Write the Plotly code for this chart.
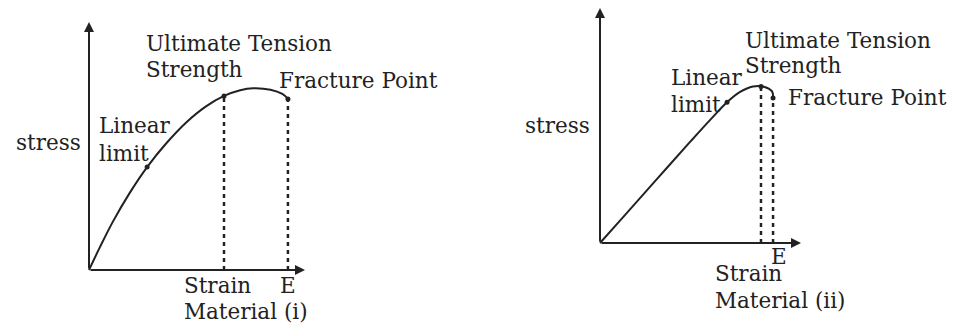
import plotly.graph_objects as go

W, H = 956, 325

# stress-strain curves (arbitrary units, axes run 0..100)
strain_i = [0, 5, 11, 19, 26.9, 36, 45, 54, 62.5, 70, 76, 84, 89.5, 92.1]
stress_i = [0, 9.1, 19.4, 31.3, 41.5, 51.3, 59.5, 65.9, 70.2, 72.5, 73.3, 72.7, 71.0, 69.0]
strain_ii = [0, 11.4, 28.4, 44.8, 54.7, 63.2, 69.7, 76.1, 81.1, 85.6, 86.1]
stress_ii = [0, 10.9, 27.3, 43.0, 52.3, 59.9, 64.3, 66.6, 66.6, 64.5, 61.7]

# key points: linear limit, ultimate tension strength, fracture point
key_strain_i = [26.9, 62.5, 92.1]
key_stress_i = [41.5, 70.2, 69.0]
key_strain_ii = [63.2, 80.1, 86.1]
key_stress_ii = [59.9, 66.6, 61.7]

labels_i = ["Ultimate Tension", "Strength", "Fracture Point", "stress",
            "Linear", "limit", "Strain", "E", "Material (i)"]
labels_ii = ["Ultimate Tension", "Strength", "Linear", "limit", "Fracture Point",
             "stress", "E", "Strain", "Material (ii)"]

INK = "#222222"
FONT = "DejaVu Serif"
LO, HI = -3, 102


def domain(p0, p1, vertical=False):
    # p0 = pixel of value 0, p1 = pixel of value 100
    k = (p1 - p0) / 100.0
    a, b = p0 + LO * k, p0 + HI * k
    if vertical:
        return [1 - a / H, 1 - b / H]
    return [a / W, b / W]


fig = go.Figure()

panels = [
    ("x", "y", strain_i, stress_i, key_strain_i, key_stress_i),
    ("x2", "y2", strain_ii, stress_ii, key_strain_ii, key_stress_ii),
]

for xa, ya, sx, sy, kx, ky in panels:
    fig.add_trace(go.Scatter(
        x=sx, y=sy, xaxis=xa, yaxis=ya, mode="lines",
        line=dict(color=INK, width=2, shape="spline", smoothing=1.0),
        hoverinfo="skip", showlegend=False
    ))
    # dashed drops from UTS and fracture point
    for vx, vy in zip(kx[1:], ky[1:]):
        fig.add_trace(go.Scatter(
            x=[vx, vx], y=[0, vy], xaxis=xa, yaxis=ya, mode="lines",
            line=dict(color=INK, width=2.5, dash="4px,4px"),
            hoverinfo="skip", showlegend=False
        ))
    fig.add_trace(go.Scatter(
        x=kx, y=ky, xaxis=xa, yaxis=ya, mode="markers",
        marker=dict(color=INK, size=5), hoverinfo="skip", showlegend=False
    ))
    # axes with arrowheads
    for tx, ty in [(100, 0), (0, 100)]:
        fig.add_annotation(
            x=tx, y=ty, ax=0, ay=0, xref=xa, yref=ya, axref=xa, ayref=ya,
            showarrow=True, arrowhead=2, arrowsize=1, arrowwidth=2,
            arrowcolor=INK, text=""
        )

# label positions (pixels: left edge, vertical centre)
pos_i = [(144, 43), (144, 69), (277, 80), (14, 143), (97, 126), (97, 153),
         (182, 285), (278, 285), (182, 311)]
pos_ii = [(743, 40), (743, 66), (669, 77), (669, 104), (786, 97),
          (523, 126), (769, 256), (713, 273), (713, 300)]

for txt, (px, py) in list(zip(labels_i, pos_i)) + list(zip(labels_ii, pos_ii)):
    fig.add_annotation(
        x=px / W, y=1 - py / H, xref="paper", yref="paper",
        text=txt, showarrow=False, xanchor="left", yanchor="middle",
        font=dict(family=FONT, size=21.5, color=INK)
    )

hidden = dict(visible=False, fixedrange=True, range=[LO, HI])
fig.update_layout(
    width=W, height=H,
    margin=dict(l=0, r=0, t=0, b=0),
    paper_bgcolor="white", plot_bgcolor="rgba(0,0,0,0)",
    xaxis=dict(domain=domain(89, 305), **hidden),
    yaxis=dict(domain=domain(270, 22, vertical=True), **hidden),
    xaxis2=dict(domain=domain(600, 801), **hidden),
    yaxis2=dict(domain=domain(243, 8, vertical=True), **hidden),
)

fig.write_html("out.html", config={"displayModeBar": False},
               post_script="document.body.style.margin='0';")
